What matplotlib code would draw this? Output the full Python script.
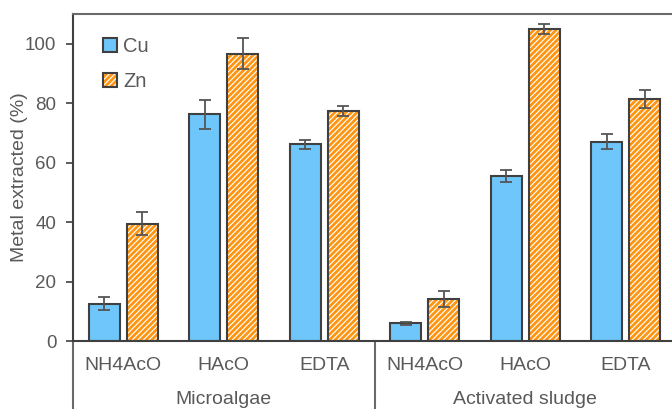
import matplotlib.pyplot as plt
import numpy as np
from matplotlib.patches import Patch

plt.rcParams['font.family'] = ['Liberation Sans', 'DejaVu Sans']
plt.rcParams['hatch.linewidth'] = 0.85

groups = ['Microalgae', 'Activated sludge']
treatments = ['NH4AcO', 'HAcO', 'EDTA', 'NH4AcO', 'HAcO', 'EDTA']
cu = [12.6, 76.3, 66.2, 5.9, 55.5, 67.1]
cu_err = [2.3, 4.9, 1.5, 0.5, 2.0, 2.5]
zn = [39.5, 96.7, 77.4, 14.0, 104.9, 81.5]
zn_err = [4.0, 5.3, 1.8, 2.7, 1.6, 3.1]

blue = '#6ec6fa'
orange = '#ff9410'
edge = '#404040'
txt = '#595959'
hatch = '//////'

W, H = 672, 409
fig = plt.figure(figsize=(W / 100, H / 100), dpi=100)
ax = fig.add_axes([73 / W, (H - 341) / H, 603 / W, 327 / H])

x = np.arange(len(treatments))
bw = 0.31
off = 0.19

ax.bar(x - off, cu, bw, color=blue, edgecolor=edge, linewidth=1.5, zorder=2)
ax.bar(x + off, zn, bw, color=orange, edgecolor='white', hatch=hatch, linewidth=0, zorder=2)
ax.bar(x + off, zn, bw, fill=False, edgecolor=edge, linewidth=1.5, zorder=3)

ek = dict(fmt='none', ecolor='#555555', elinewidth=1.3, capsize=4, capthick=1.3, zorder=4)
ax.errorbar(x - off, cu, yerr=cu_err, **ek)
ax.errorbar(x + off, zn, yerr=zn_err, **ek)

ax.set_xlim(-0.5, 5.5)
ax.set_ylim(0, 110)
ax.set_yticks([0, 20, 40, 60, 80, 100])
ax.tick_params(axis='y', length=5, width=1.2, color=edge, labelsize=13.5, labelcolor=txt, pad=7)
ax.set_xticks([])

for s in ['left', 'bottom']:
    ax.spines[s].set_color(edge)
    ax.spines[s].set_linewidth(1.5)
ax.spines['top'].set_color('#6a6a6a')
ax.spines['top'].set_linewidth(1.5)
ax.spines['right'].set_visible(False)

ax.set_ylabel('Metal extracted (%)', fontsize=14, color=txt)
ax.yaxis.set_label_coords(-0.0746, 0.5)

# category labels
for xi, t in zip(x, treatments):
    ax.text(xi, -29 / 327, t, transform=ax.get_xaxis_transform(), ha='center',
            va='baseline', fontsize=14, color=txt)
ax.text(1, -63 / 327, groups[0], transform=ax.get_xaxis_transform(), ha='center',
        va='baseline', fontsize=14, color=txt)
ax.text(4, -63 / 327, groups[1], transform=ax.get_xaxis_transform(), ha='center',
        va='baseline', fontsize=14, color=txt)

# frame lines under the axis
for xl in [-0.5, 2.5]:
    ax.plot([xl, xl], [0, -0.3], transform=ax.get_xaxis_transform(), color='#6a6a6a',
            linewidth=1.5, clip_on=False)

h_cu = Patch(facecolor=blue, edgecolor=edge, linewidth=1.5)
h_zn = (Patch(facecolor=orange, edgecolor='white', hatch=hatch, linewidth=0),
        Patch(fill=False, edgecolor=edge, linewidth=1.5))
ax.legend([h_cu, h_zn], ['Cu', 'Zn'], loc='upper left', bbox_to_anchor=(0.02, 0.985),
          frameon=False, fontsize=14.5, labelcolor=txt, handlelength=0.7, handleheight=0.7,
          handletextpad=0.3, labelspacing=0.8)

fig.savefig('out.png', dpi=100)
